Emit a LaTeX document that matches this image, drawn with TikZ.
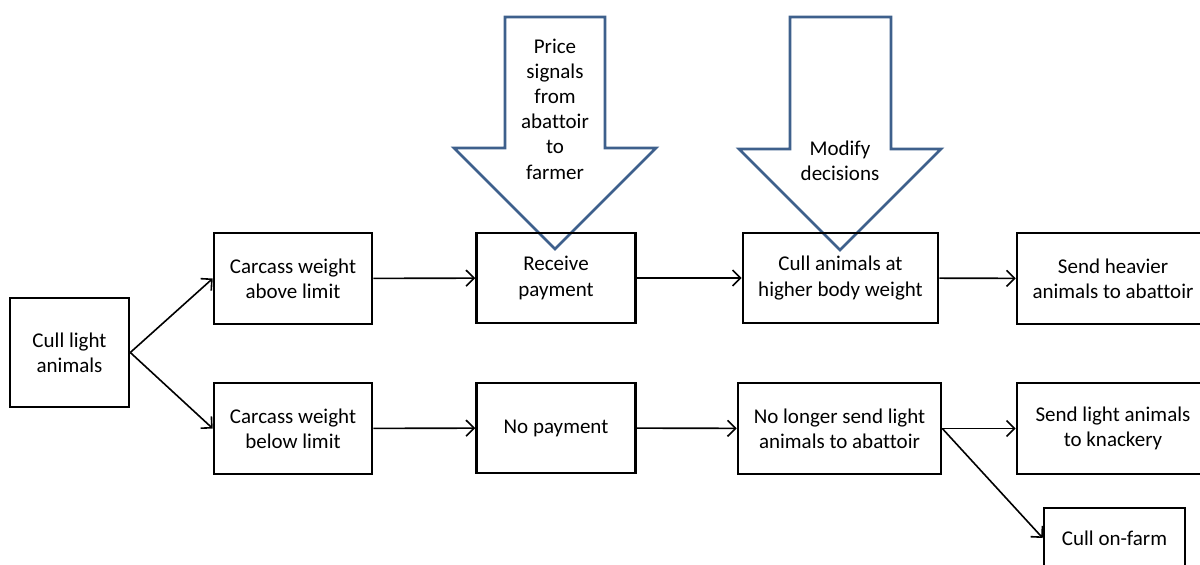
\documentclass[tikz,border=0pt]{standalone}
\usepackage{fontspec}
\setmainfont{Carlito}[Ligatures=NoCommon]
\usetikzlibrary{arrows.meta}
\definecolor{arrowblue}{RGB}{62,96,140}
\begin{document}
\begin{tikzpicture}[x=0.5pt, y=-0.5pt,
        every node/.style={font=\fontsize{10.5}{12.6}\selectfont, align=center},
        stepbox/.style={draw=black, line width=1.3pt, inner sep=0pt},
        link/.style={line width=0.8pt, -{Straight Barb[length=4pt, width=8pt]}},
        bigarrow/.style={draw=arrowblue, fill=white, line width=1.4pt, line join=miter}]
    \useasboundingbox (0,0) rectangle (1200,564);

    % feedback arrows
    \filldraw[bigarrow] (505,17) -- (605,17) -- (605,148) -- (656,148) -- (555,249)
        -- (454,148) -- (505,148) -- cycle;
    \node (sig) at (555,109) {Price\\signals\\from\\abattoir\\to\\farmer};

    \filldraw[bigarrow] (790,17) -- (891,17) -- (891,149) -- (941,149) -- (840,250)
        -- (739,149) -- (790,149) -- cycle;
    \node (mod) at (840,161) {Modify\\decisions};

    % boxes
    \node[stepbox, minimum width=59.5pt, minimum height=54.5pt] (cull) at (69.5,352.5) {Cull light\\animals};

    \node[stepbox, minimum width=79pt, minimum height=45.5pt] (above) at (293,278.5) {Carcass weight\\above limit};
    \node[stepbox, minimum width=79.5pt, minimum height=45pt] (receive) at (556,278) {Receive\\payment};
    \node[stepbox, minimum width=97.5pt, minimum height=45pt] (higher) at (840.5,278) {Cull animals at\\higher body weight};
    \node[stepbox, minimum width=96pt, minimum height=45.5pt] (heavier) at (1113,278.5) {Send heavier\\animals to abattoir};

    \node[stepbox, minimum width=79pt, minimum height=45.5pt] (below) at (293,428.5) {Carcass weight\\below limit};
    \node[stepbox, minimum width=79.5pt, minimum height=45pt] (nopay) at (556,428) {No payment};
    \node[stepbox, minimum width=101.5pt, minimum height=45.5pt] (nolonger) at (839.5,428.5) {No longer send light\\animals to abattoir};
    \node[stepbox, minimum width=96pt, minimum height=45.5pt] (knackery) at (1113,428.5) {Send light animals\\to knackery};
    \node[stepbox, minimum width=70.5pt, minimum height=30pt] (onfarm) at (1114.5,538) {Cull on-farm};

    % links
    \draw[link] (cull.east) -- (above.west);
    \draw[link] (cull.east) -- (below.west);
    \draw[link] (above) -- (receive);
    \draw[link] (receive) -- (higher);
    \draw[link] (higher) -- (heavier);
    \draw[link] (below) -- (nopay);
    \draw[link] (nopay) -- (nolonger);
    \draw[link] (nolonger) -- (knackery);
    \draw[link] (nolonger.east) -- (onfarm.west);
\end{tikzpicture}
\end{document}
